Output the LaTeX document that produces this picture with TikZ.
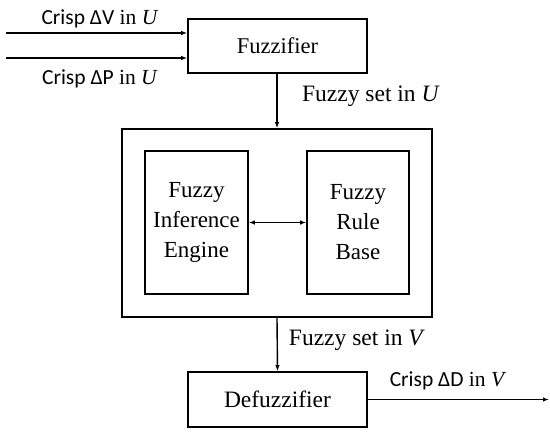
\documentclass[tikz,border=0pt]{standalone}
\usepackage{fontspec}
\setmainfont{Liberation Serif}
\newfontfamily\crispfont{Carlito}
\usetikzlibrary{arrows.meta}
\begin{document}
\begin{tikzpicture}[x=1pt,y=-1pt,
  box/.style={draw,line width=1.6pt,rectangle,inner sep=0pt,align=center},
  conn/.style={line width=1.4pt,-{Latex[length=6pt,width=4.5pt]}},
  bigtxt/.style={font=\fontsize{23}{30}\selectfont},
  midtxt/.style={font=\fontsize{23.5}{30}\selectfont},
  smalltxt/.style={font=\fontsize{21.5}{24}\selectfont,inner sep=0pt}]
\useasboundingbox (0,0) rectangle (550,436);
\node[box,font=\fontsize{22.5}{30}\selectfont,minimum width=179pt,minimum height=54pt] (fuzz) at (277.5,46) {Fuzzifier};
\node[box,minimum width=310pt,minimum height=188pt] (outer) at (277,223) {};
\node[box,bigtxt,minimum width=103pt,minimum height=143pt] (inf) at (196.5,222.5) {Fuzzy\\Inference\\Engine};
\node[box,bigtxt,minimum width=102pt,minimum height=143pt] (rule) at (358,222.5) {Fuzzy\\Rule\\Base};
\node[box,font=\fontsize{23.5}{30}\selectfont,minimum width=179pt,minimum height=55pt] (defuzz) at (277.5,399.5) {Defuzzifier};
\coordinate (in1) at (6,33);
\coordinate (in2) at (6,58);
\coordinate (out) at (549,401);
\draw[conn] (in1) -- (in1 -| fuzz.west);
\draw[conn] (in2) -- (in2 -| fuzz.west);
\draw[conn] (fuzz.south -| outer.north) -- (outer.north);
\draw[line width=1.4pt,{Latex[length=6pt,width=4.5pt]}-{Latex[length=6pt,width=4.5pt]}] (inf.east) -- (rule.west);
\draw[conn] (outer.south) -- (defuzz.north);
\draw[conn] (defuzz.east) -- (defuzz.east -| out);
\node[smalltxt] (lv) at (100,19) {{\crispfont Crisp ΔV} in \textit{U}};
\node[smalltxt] (lp) at (100,79) {{\crispfont Crisp ΔP} in \textit{U}};
\node[midtxt,inner sep=0pt] (lu) at (371,96) {Fuzzy set in \textit{U}};
\node[midtxt,inner sep=0pt] (lvv) at (357,340) {Fuzzy set in \textit{V}};
\node[smalltxt] (ld) at (448,381) {{\crispfont Crisp ΔD} in \textit{V}};
\end{tikzpicture}
\end{document}
